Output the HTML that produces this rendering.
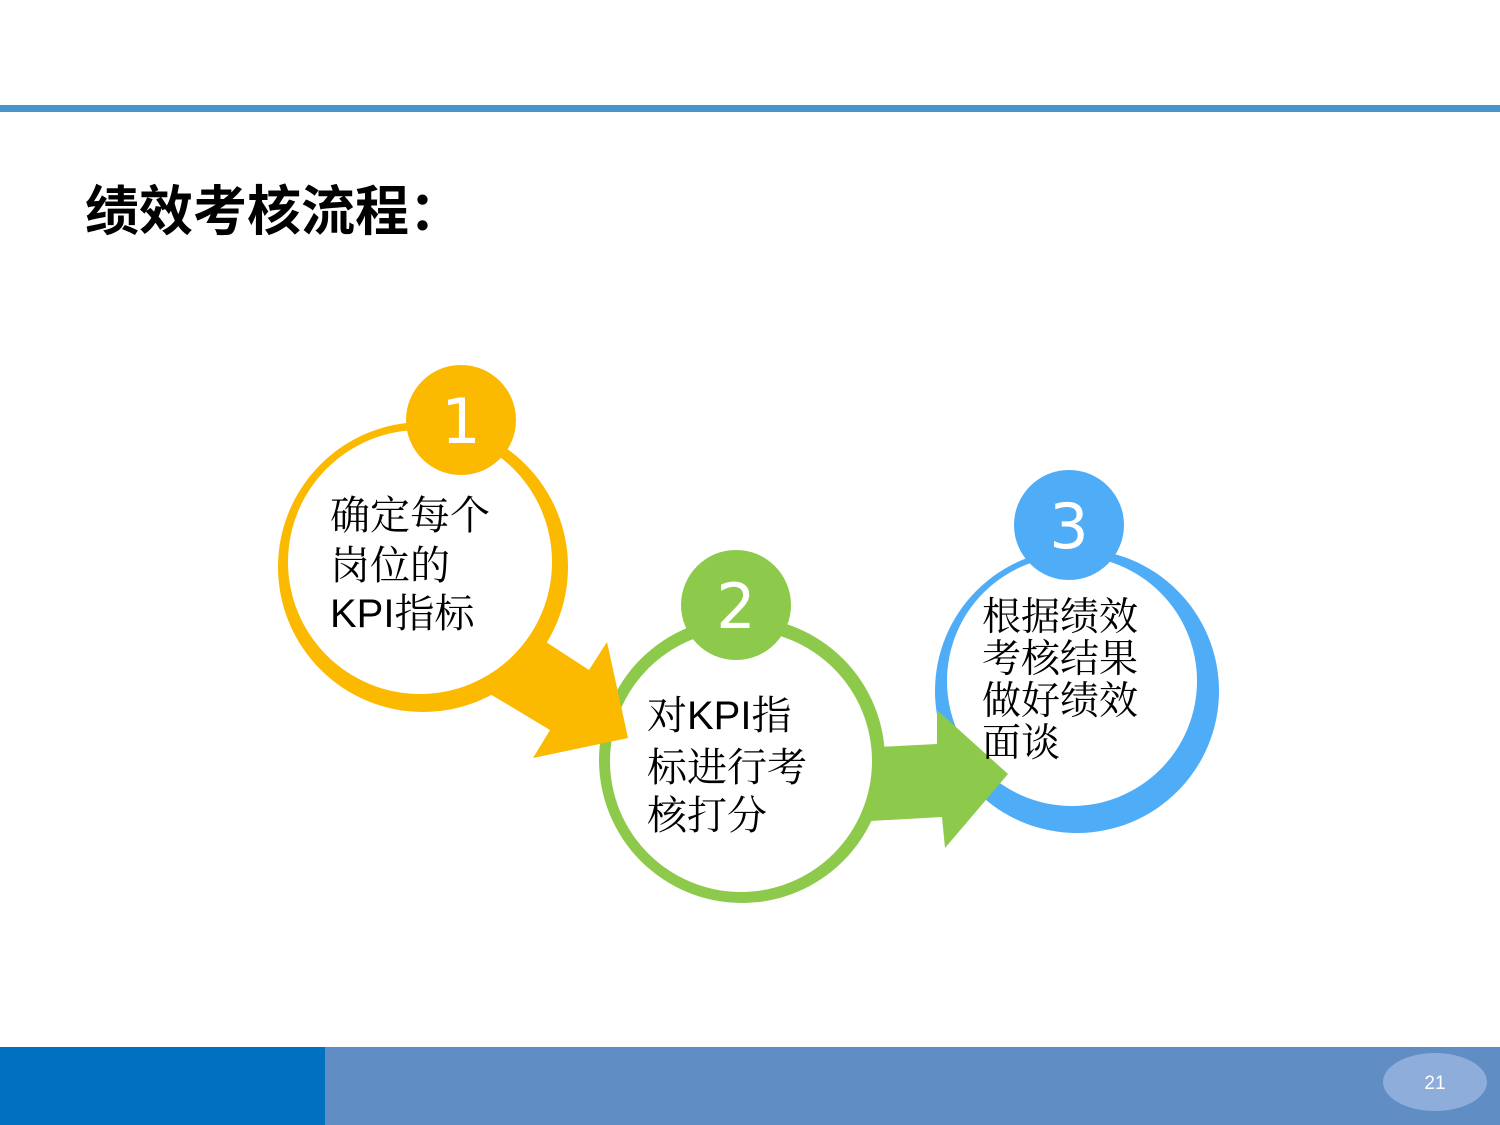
<!DOCTYPE html>
<html><head><meta charset="utf-8"><style>
html,body{margin:0;padding:0;background:#fff;}
svg{display:block;}
</style></head><body>
<svg width="1500" height="1125" viewBox="0 0 1500 1125" xmlns="http://www.w3.org/2000/svg">
<rect x="0" y="0" width="1500" height="1125" fill="#fff"/>
<rect x="0" y="105" width="1500" height="7" fill="#4a94cc"/>
<text x="85" y="230" font-family="'Liberation Sans','Noto Sans CJK SC',sans-serif" font-size="54" font-weight="bold" fill="#000">绩效考核流程：</text>

<!-- circle 3 -->
<circle cx="1077" cy="691" r="142" fill="#4facf7"/>
<circle cx="1072" cy="681" r="125" fill="#fff"/>
<circle cx="1069" cy="525" r="55" fill="#4facf7"/>
<text x="1069" y="548" text-anchor="middle" font-family="'DejaVu Sans','Liberation Sans',sans-serif" font-size="62" fill="#fff">3</text>

<!-- green arrow (under circle 2) -->
<polygon points="780,752 937,744 937,710 1008,774 945,848 942,817 780,826" fill="#8dc94b"/>

<!-- circle 2 -->
<circle cx="742" cy="760" r="143" fill="#8dc94b"/>
<circle cx="741" cy="761" r="131" fill="#fff"/>
<circle cx="736" cy="605" r="55" fill="#8dc94b"/>
<text x="736" y="628" text-anchor="middle" font-family="'DejaVu Sans','Liberation Sans',sans-serif" font-size="62" fill="#fff">2</text>

<!-- yellow arrow -->
<polygon points="520,625 589,670 607,642 628,738 533,758 550,730 470,682" fill="#fbb900"/>

<!-- circle 1 -->
<circle cx="423" cy="567" r="145" fill="#fbb900"/>
<circle cx="420" cy="562" r="132" fill="#fff"/>
<circle cx="461" cy="420" r="55" fill="#fbb900"/>
<text x="461" y="443" text-anchor="middle" font-family="'DejaVu Sans','Liberation Sans',sans-serif" font-size="62" fill="#fff">1</text>

<g font-family="'Liberation Sans','Noto Serif CJK SC',serif" font-size="40" fill="#000">
<text x="330" y="529">确定每个</text>
<text x="330" y="579">岗位的</text>
<text x="330" y="627">KPI指标</text>
<text x="647" y="729">对KPI指</text>
<text x="647" y="781">标进行考</text>
<text x="647" y="829">核打分</text>
</g>
<g font-family="'Liberation Sans','Noto Serif CJK SC',serif" font-size="39" fill="#000">
<text x="982" y="630">根据绩效</text>
<text x="982" y="672">考核结果</text>
<text x="982" y="714">做好绩效</text>
<text x="982" y="756">面谈</text>
</g>

<rect x="0" y="1047" width="325" height="78" fill="#0070c0"/>
<rect x="325" y="1047" width="1175" height="78" fill="#5f8dc4"/>
<ellipse cx="1435" cy="1082" rx="52" ry="29" fill="#8eaddb"/>
<text x="1435" y="1089" text-anchor="middle" font-family="'Liberation Sans',sans-serif" font-size="19" fill="#fff">21</text>
</svg>
</body></html>
